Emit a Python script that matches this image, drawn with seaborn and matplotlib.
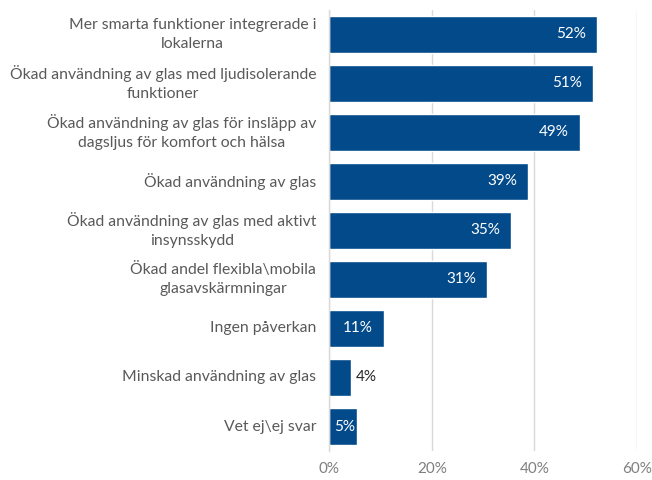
import matplotlib
matplotlib.use("Agg")
import matplotlib.pyplot as plt
import seaborn as sns
import pandas as pd
import numpy as np

categories = [
    "Mer smarta funktioner integrerade i\nlokalerna",
    "Ökad användning av glas med ljudisolerande\nfunktioner",
    "Ökad användning av glas för insläpp av\ndagsljus för komfort och hälsa",
    "Ökad användning av glas",
    "Ökad användning av glas med aktivt\ninsynsskydd",
    "Ökad andel flexibla\\mobila\nglasavskärmningar",
    "Ingen påverkan",
    "Minskad användning av glas",
    "Vet ej\\ej svar",
]
values = [52.2, 51.4, 48.9, 38.8, 35.5, 30.8, 10.7, 4.3, 5.4]
value_labels = ["52%", "51%", "49%", "39%", "35%", "31%", "11%", "4%", "5%"]
x_ticks = [0, 20, 40, 60]
x_tick_labels = ["0%", "20%", "40%", "60%"]

sns.set_theme(style="white")
plt.rcParams["font.family"] = ["Lato", "DejaVu Sans"]

df = pd.DataFrame({"cat": categories, "val": values})

fig = plt.figure(figsize=(6.52, 4.8), dpi=100)
ax = fig.add_axes([0.505, 0.0604, 0.472, 0.919])

bar_color = "#034A8A"
sns.barplot(data=df, y="cat", x="val", orient="h", color=bar_color,
            saturation=1, width=0.755, ax=ax)

ax.set_xlim(0, 60)
ax.set_ylim(len(categories) - 0.5, -0.5)
ax.set_xticks(x_ticks)
ax.set_xticklabels(x_tick_labels, color="#7f7f7f", fontsize=11)
ax.set_xlabel("")
ax.set_ylabel("")
ax.grid(axis="x", color="#d9d9d9", linewidth=1)
ax.set_axisbelow(True)

# category labels drawn as centred multi-line text, right aligned to the axis
ax.set_yticks(np.arange(-0.5, len(categories), 1))
ax.set_yticklabels([])
ax.tick_params(axis="y", length=5, color="#d9d9d9", width=1, direction="out")
ax.tick_params(axis="x", length=0, pad=8)
ytrans = ax.get_yaxis_transform()
for i, cat in enumerate(categories):
    ax.text(-0.042, i, cat, transform=ytrans, ha="right", va="center",
            multialignment="center", color="#595959", fontsize=11.3,
            linespacing=1.45)

for s in ["top", "right", "bottom"]:
    ax.spines[s].set_visible(False)
ax.spines["left"].set_color("#d9d9d9")
ax.spines["left"].set_linewidth(1)

for i, (v, lab) in enumerate(zip(values, value_labels)):
    if v < 5:
        ax.text(v + 0.9, i, lab, ha="left", va="center", color="#262626",
                fontsize=11)
    elif v < 8:
        ax.text(v / 2 + 0.2, i, lab, ha="center", va="center", color="white",
                fontsize=11)
    else:
        ax.text(v - 2.2, i, lab, ha="right", va="center", color="white",
                fontsize=11)

fig.savefig("out.png", dpi=100)
